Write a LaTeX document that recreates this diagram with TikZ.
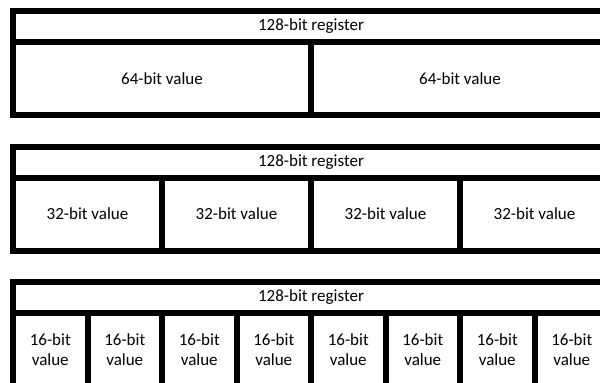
\documentclass[tikz,border=0pt]{standalone}
\usepackage{fontspec}
\setmainfont{Carlito}
\usetikzlibrary{positioning}

\tikzset{
  regbox/.style={draw, line width=6pt, inner sep=0pt, outer sep=0pt,
    minimum height=31pt, minimum width=596pt, anchor=north west,
    font=\fontsize{17}{20.5}\selectfont},
  valbox/.style={draw, line width=6pt, inner sep=0pt, outer sep=0pt,
    minimum height=73pt, anchor=north west, align=center,
    font=\fontsize{17}{20.5}\selectfont},
}

\begin{document}
\begin{tikzpicture}[x=1pt, y=1pt]

  \newcommand\W{596}
  \newcommand\Yb{135.5}

  \fill[white] (0,0) rectangle (600,-383);
  \useasboundingbox (0,0) rectangle (600,-383);
  \clip (0,0) rectangle (600,-383);

  % two 64-bit lanes
  \node[regbox] (reg64) at (13, -11) {128-bit register};
  \foreach \i in {0,1}
    \node[valbox, minimum width=\W/2] (v64\i) at (13+\i*\W/2, -42) {64-bit value};

  % four 32-bit lanes
  \node[regbox] (reg32) at (13, -11-\Yb) {128-bit register};
  \foreach \i in {0,...,3}
    \node[valbox, minimum width=\W/4] (v32\i) at (13+\i*\W/4, -42-\Yb) {32-bit value};

  % eight 16-bit lanes
  \node[regbox] (reg16) at (13, -11-2*\Yb) {128-bit register};
  \foreach \i in {0,...,7}
    \node[valbox, minimum width=\W/8] (v16\i) at (13+\i*\W/8, -42-2*\Yb) {16-bit\\value};

\end{tikzpicture}
\end{document}
